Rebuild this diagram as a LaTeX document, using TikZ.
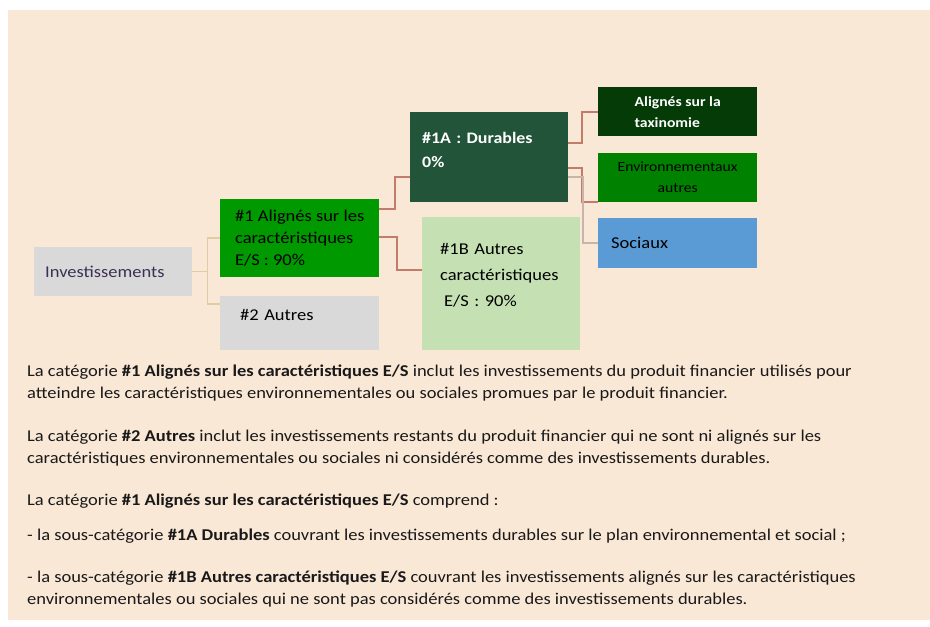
\documentclass[tikz,border=0pt]{standalone}
\usepackage{fontspec}
\setmainfont{Carlito}[FakeStretch=1.12]
\usetikzlibrary{positioning, calc}
\definecolor{peach}{HTML}{FAE8D7}
\definecolor{boxgray}{HTML}{D9D9D9}
\definecolor{esgreen}{HTML}{009900}
\definecolor{durgreen}{HTML}{22543A}
\definecolor{othgreen}{HTML}{C5E0B3}
\definecolor{taxgreen}{HTML}{043B06}
\definecolor{envgreen}{HTML}{008200}
\definecolor{socblue}{HTML}{5B9BD5}
\definecolor{invtext}{HTML}{3B3054}
\definecolor{tanline}{HTML}{E2CDA2}
\definecolor{redline}{HTML}{C27C6B}
\definecolor{greyline}{HTML}{C9B4AC}
\tikzset{
        catbox/.style={rectangle, anchor=north west, inner sep=0pt, minimum width=159pt, font=\fontsize{16.5}{22}\selectfont},
        subbox/.style={catbox, font=\fontsize{14}{21}\selectfont},
        para/.style={anchor=north west, inner sep=0pt, align=left, text=black!90, font=\fontsize{16.5}{22}\selectfont},
        tanlink/.style={draw=tanline, line width=1.5pt},
        redlink/.style={draw=redline, line width=2pt},
        greylink/.style={draw=greyline, line width=2pt},
    }
\begin{document}
\begin{tikzpicture}[x=1pt, y=-1pt]
        \useasboundingbox (0,0) rectangle (930,627);
        \fill[peach] (8,10) rectangle (930,620);

        % Tree of categories
        \node[catbox, fill=boxgray, text=invtext, minimum width=158pt, minimum height=49pt, text width=136pt, inner xsep=11pt, align=left] (inv) at (34,247) {Investissements};
        \node[catbox, fill=esgreen, minimum height=78pt, align=left] (al) at (220,199) {\#1 Alignés sur les\\caractéristiques\\E/S : 90\%};
        \node[catbox, fill=boxgray, minimum height=54pt, text width=119pt, inner xsep=20pt, align=left, text depth=16pt] (au) at (220,296) {\#2 Autres};
        \node[catbox, fill=durgreen, text=white, minimum width=158pt, minimum height=90pt, text width=134pt, inner xsep=12pt, align=left, font=\fontsize{16}{24}\bfseries, text depth=38pt] (dur) at (410,112) {\#1A : Durables\\0\%};
        \node[catbox, fill=othgreen, minimum width=158pt, minimum height=133pt, text width=122pt, inner xsep=18pt, align=left, font=\fontsize{16.5}{26}\selectfont, text depth=69pt] (oth) at (422,217) {\#1B Autres\\caractéristiques\\\hspace*{4pt}E/S : 90\%};
        \node[subbox, fill=taxgreen, text=white, minimum height=49pt, align=left, font=\fontsize{14}{21}\bfseries] (tax) at (598,87) {Alignés sur la\\taxinomie};
        \node[subbox, fill=envgreen, minimum height=49pt, align=center] (env) at (598,153) {Environnementaux\\autres};
        \node[catbox, fill=socblue, minimum height=50pt, text width=133pt, inner xsep=13pt, align=left] (soc) at (598,218) {Sociaux};

        \draw[tanlink] (inv.east) -- ++(15,0) |- (al.west);
        \draw[tanlink] (inv.east) -- ++(15,0) |- ([yshift=-8pt]au.north west);
        \draw[redlink] ([yshift=-10pt]al.north east) -- ++(16,0) |- ([yshift=25pt]dur.south west);
        \draw[redlink] ([yshift=-38pt]al.north east) -- ++(18,0) |- ([yshift=-53pt]oth.north west);
        \draw[redlink] ([yshift=-31pt]dur.north east) -- ++(14,0) |- (tax.west);
        \draw[redlink] ([yshift=-56pt]dur.north east) -- ++(14,0) |- (env.south west);
        \draw[greylink] ([yshift=-65pt]dur.north east) -- ++(15,0) |- (soc.west);

        % Explanations
        \node[para] (par1) at (27,361) {\strut La catégorie \textbf{\#1 Alignés sur les caractéristiques E/S} inclut les investissements du produit financier utilisés pour\\\strut atteindre les caractéristiques environnementales ou sociales promues par le produit financier.};
        \node[para, below=20pt of par1.south west, anchor=north west] (par2) {\strut La catégorie \textbf{\#2 Autres} inclut les investissements restants du produit financier qui ne sont ni alignés sur les\\\strut caractéristiques environnementales ou sociales ni considérés comme des investissements durables.};
        \node[para, below=20pt of par2.south west, anchor=north west] (par3) {\strut La catégorie \textbf{\#1 Alignés sur les caractéristiques E/S} comprend :};
        \node[para, below=13pt of par3.south west, anchor=north west] (par4) {\strut - la sous-catégorie \textbf{\#1A Durables} couvrant les investissements durables sur le plan environnemental et social ;};
        \node[para, below=19pt of par4.south west, anchor=north west] (par5) {\strut - la sous-catégorie \textbf{\#1B Autres caractéristiques E/S} couvrant les investissements alignés sur les caractéristiques\\\strut environnementales ou sociales qui ne sont pas considérés comme des investissements durables.};
    \end{tikzpicture}
\end{document}
